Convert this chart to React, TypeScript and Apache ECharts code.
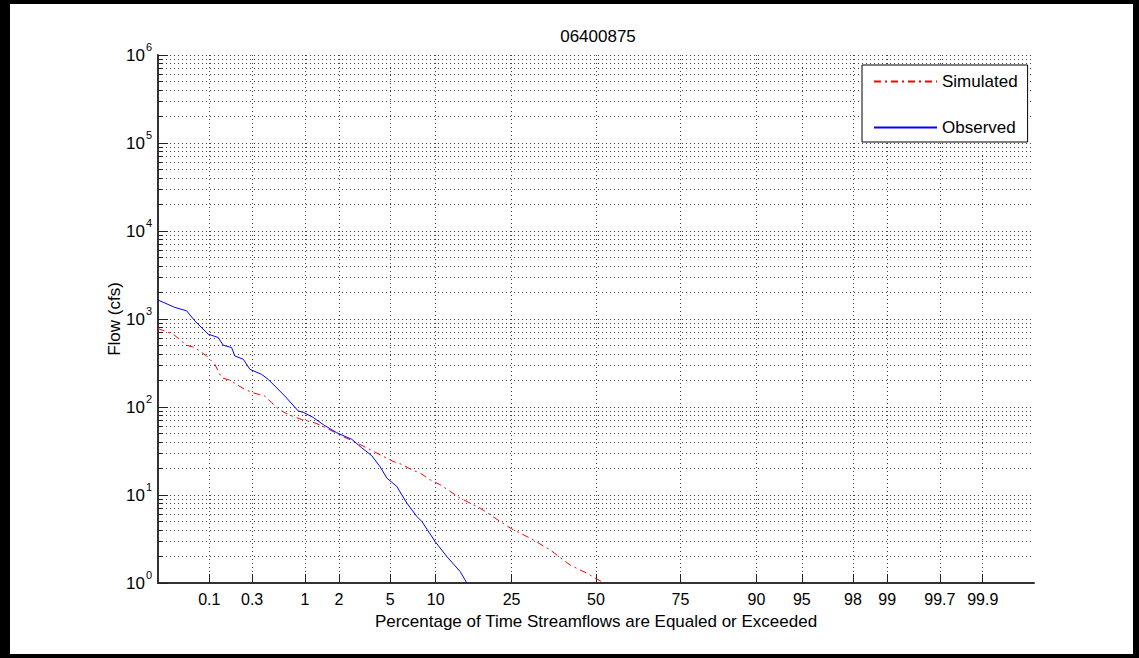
import React, { useEffect, useRef } from "react";
import * as echarts from "echarts";

const titleText = "06400875";
const xAxisName = "Percentage of Time Streamflows are Equaled or Exceeded";
const yAxisName = "Flow (cfs)";

const xTickPct = [0.1, 0.3, 1, 2, 5, 10, 25, 50, 75, 90, 95, 98, 99, 99.7, 99.9];
const xTickLabels = ["0.1", "0.3", "1", "2", "5", "10", "25", "50", "75", "90", "95", "98", "99", "99.7", "99.9"];
const yMajorTicks = [1, 10, 100, 1000, 10000, 100000, 1000000];
const yMinorMultipliers = [2, 3, 4, 5, 6, 7, 8, 9];

const simulatedPct = [0.0231, 0.0364, 0.0534, 0.0673, 0.0929, 0.116, 0.1386, 0.1717, 0.251, 0.321, 0.407, 0.477, 0.556, 0.697, 0.934, 1.235, 1.466, 2.174, 2.966, 3.99, 5.27, 5.87, 7.23, 7.99, 9.24, 10.64, 12.18, 13.88, 17.73, 22.2, 25.08, 29.95, 35.7, 41.8, 47.1, 51.9];
const simulatedFlow = [780, 673, 504, 474, 380, 305, 215, 202, 158, 143, 133, 112, 95, 82, 72, 66, 60, 46, 37.5, 30, 24, 22.7, 19, 17.8, 14.9, 13.1, 11.0, 9.2, 7.1, 5.0, 4.1, 3.23, 2.38, 1.6, 1.29, 1.03];

const observedPct = [0.0231, 0.0381, 0.0534, 0.0673, 0.097, 0.127, 0.1446, 0.1796, 0.195, 0.241, 0.284, 0.377, 0.441, 0.646, 0.868, 0.967, 1.194, 1.466, 1.913, 2.547, 3.06, 3.657, 4.22, 4.73, 5.57, 6.53, 7.61, 8.2, 9.93, 11.66, 13.88, 15.1];
const observedFlow = [1650, 1355, 1241, 953, 673, 616, 504, 474, 380, 349, 268, 235, 206, 133, 90, 87, 76, 63, 51, 43, 34.4, 28, 21, 15.6, 12.5, 8.1, 5.7, 5.0, 2.96, 2.0, 1.35, 1.0];

// inverse standard normal CDF (Acklam) -> probability axis transform
function normInv(p: number): number {
  const a = [-3.969683028665376e1, 2.209460984245205e2, -2.759285104469687e2, 1.38357751867269e2, -3.066479806614716e1, 2.506628277459239];
  const b = [-5.447609879822406e1, 1.615858368580409e2, -1.556989798598866e2, 6.680131188771972e1, -1.328068155288572e1];
  const c = [-7.784894002430293e-3, -3.223964580411365e-1, -2.400758277161838, -2.549732539343734, 4.374664141464968, 2.938163982698783];
  const d = [7.784695709041462e-3, 3.224671290700398e-1, 2.445134137142996, 3.754408661907416];
  const pl = 0.02425;
  const ph = 1 - pl;
  if (p < pl) {
    const q = Math.sqrt(-2 * Math.log(p));
    return (((((c[0] * q + c[1]) * q + c[2]) * q + c[3]) * q + c[4]) * q + c[5]) / ((((d[0] * q + d[1]) * q + d[2]) * q + d[3]) * q + 1);
  }
  if (p <= ph) {
    const q = p - 0.5;
    const r = q * q;
    return ((((((a[0] * r + a[1]) * r + a[2]) * r + a[3]) * r + a[4]) * r + a[5]) * q) / (((((b[0] * r + b[1]) * r + b[2]) * r + b[3]) * r + b[4]) * r + 1);
  }
  const q = Math.sqrt(-2 * Math.log(1 - p));
  return -(((((c[0] * q + c[1]) * q + c[2]) * q + c[3]) * q + c[4]) * q + c[5]) / ((((d[0] * q + d[1]) * q + d[2]) * q + d[3]) * q + 1);
}

const FONT = "'Liberation Sans', Arial, Helvetica, sans-serif";

export default function App() {
  const ref = useRef<HTMLDivElement>(null);
  useEffect(() => {
    document.body.style.margin = "0";
    if (!ref.current) return;
    const chart = echarts.init(ref.current, undefined, { renderer: "svg" });
    const xTickZ = xTickPct.map((p) => normInv(p / 100));
    const yMinorTicks: number[] = [];
    yMajorTicks.slice(0, -1).forEach((d) => yMinorMultipliers.forEach((m) => yMinorTicks.push(m * d)));
    const gridLine = { show: true, lineStyle: { color: "#444", width: 1, type: [1, 3] } };
    const simData = simulatedPct.map((p, i) => [normInv(p / 100), simulatedFlow[i]]);
    const obsData = observedPct.map((p, i) => [normInv(p / 100), observedFlow[i]]);

    chart.setOption({
      animation: false,
      backgroundColor: "#fff",
      textStyle: { fontFamily: FONT },
      title: {
        text: titleText,
        left: 593,
        top: 23,
        textAlign: "center",
        textStyle: { fontSize: 17, fontWeight: "normal", color: "#000", fontFamily: FONT },
      },
      legend: {
        orient: "vertical",
        left: 862,
        top: 65,
        padding: [8, 10, 6, 11],
        itemGap: 29,
        itemWidth: 63,
        itemHeight: 16,
        backgroundColor: "#fff",
        borderColor: "#000",
        borderWidth: 1,
        borderRadius: 0,
        itemStyle: { opacity: 0 },
        textStyle: { fontSize: 17, color: "#000", fontFamily: FONT },
        data: ["Simulated", "Observed"],
      },
      grid: { left: 158, right: 105, top: 55, bottom: 75, containLabel: false },
      xAxis: {
        type: "value",
        min: -3.5,
        max: 3.5,
        name: xAxisName,
        nameLocation: "middle",
        nameGap: 30,
        nameMoveOverlap: false,
        nameTextStyle: { fontSize: 17, color: "#000", fontFamily: FONT, verticalAlign: "top" },
        axisLine: { show: true, onZero: false, lineStyle: { color: "#333", width: 2 } },
        axisTick: { show: true, inside: true, length: 9, customValues: xTickZ, lineStyle: { color: "#222", width: 1 } },
        axisLabel: {
          customValues: xTickZ,
          margin: 8,
          fontSize: 16,
          color: "#000",
          fontFamily: FONT,
          formatter: (v: number) => {
            let best = 0;
            xTickZ.forEach((z, i) => {
              if (Math.abs(z - v) < Math.abs(xTickZ[best] - v)) best = i;
            });
            return xTickLabels[best];
          },
        },
        splitLine: gridLine,
      },
      yAxis: [
        {
          type: "log",
          logBase: 10,
          min: 1,
          max: 1000000,
          position: "left",
          name: yAxisName,
          nameLocation: "middle",
          nameGap: 35,
          nameMoveOverlap: false,
          nameTextStyle: { fontSize: 17, color: "#000", fontFamily: FONT },
          axisLine: { show: true, onZero: false, lineStyle: { color: "#333", width: 2 } },
          axisTick: { show: true, inside: true, length: 10, customValues: yMajorTicks, lineStyle: { color: "#222", width: 1 } },
          axisLabel: {
            customValues: yMajorTicks,
            margin: 6,
            color: "#000",
            formatter: (v: number) => `{b|10}{s|${Math.round(Math.log10(v))}}`,
            rich: {
              b: { fontSize: 17, color: "#000", fontFamily: FONT },
              s: { fontSize: 11, color: "#000", fontFamily: FONT, verticalAlign: "top", padding: [0, 0, 17, 1] },
            },
          },
          splitLine: gridLine,
        },
        {
          type: "log",
          logBase: 10,
          min: 1,
          max: 1000000,
          position: "left",
          axisLine: { show: false, onZero: false },
          axisTick: { show: true, inside: true, length: 5, customValues: yMinorTicks, lineStyle: { color: "#222", width: 1 } },
          axisLabel: { show: false },
          splitLine: gridLine,
        },
      ],
      series: [
        {
          name: "Simulated",
          type: "line",
          yAxisIndex: 0,
          symbol: "none",
          data: simData,
          lineStyle: { color: "#ff0000", width: 1, type: [7, 4, 2, 4] },
          itemStyle: { color: "#ff0000" },
          z: 3,
        },
        {
          name: "Observed",
          type: "line",
          yAxisIndex: 0,
          symbol: "none",
          data: obsData,
          lineStyle: { color: "#0000ff", width: 1 },
          itemStyle: { color: "#0000ff" },
          z: 4,
        },
      ],
      graphic: [
        { type: "rect", left: 0, top: 0, shape: { width: 10, height: 658 }, style: { fill: "#000" }, silent: true },
        { type: "rect", left: 0, top: 0, shape: { width: 1139, height: 4 }, style: { fill: "#000" }, silent: true },
        { type: "rect", left: 0, top: 654, shape: { width: 1139, height: 4 }, style: { fill: "#000" }, silent: true },
        { type: "rect", left: 1133, top: 0, shape: { width: 6, height: 658 }, style: { fill: "#000" }, silent: true },
      ],
    });
    return () => chart.dispose();
  }, []);
  return <div ref={ref} style={{ width: 1139, height: 658 }} />;
}
